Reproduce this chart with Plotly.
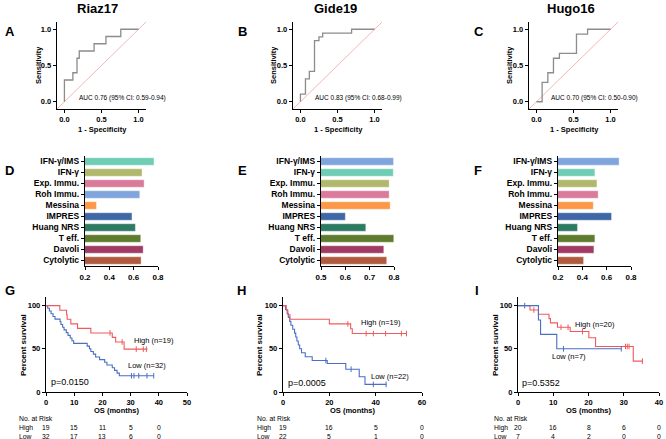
import plotly.graph_objects as go

W, H = 666, 439
FONT = "Liberation Sans"

# ---------------- ROC data ----------------
roc_titles = ["Riaz17", "Gide19", "Hugo16"]
riaz_fpr = [0, 0, 0.114, 0.17, 0.2, 0.4, 0.56, 0.76, 1.0]
riaz_tpr = [0, 0.3, 0.4, 0.6, 0.7, 0.8, 0.9, 1.0, 1.0]
gide_fpr = [0, 0, 0.068, 0.12, 0.19, 0.25, 0.3, 0.69, 1.0]
gide_tpr = [0, 0.105, 0.316, 0.42, 0.842, 0.895, 0.947, 1.0, 1.0]
hugo_fpr = [0, 0.077, 0.154, 0.23, 0.31, 0.54, 0.69, 1.0]
hugo_tpr = [0, 0.267, 0.4, 0.6, 0.667, 0.933, 1.0, 1.0]
auc_texts = ["AUC 0.76 (95% CI: 0.59-0.94)",
             "AUC 0.83 (95% CI: 0.68-0.99)",
             "AUC 0.70 (95% CI: 0.50-0.90)"]
roc_ticks = [0, 0.5, 1.0]

# ---------------- Bar data ----------------
signatures = ["IFN-γ/IMS", "IFN-γ", "Exp. Immu.", "Roh Immu.", "Messina",
              "IMPRES", "Huang NRS", "T eff.", "Davoli", "Cytolytic"]
riaz_auc = [0.767, 0.669, 0.686, 0.650, 0.294, 0.586, 0.614, 0.658, 0.678, 0.661]
gide_auc = [0.798, 0.797, 0.780, 0.780, 0.784, 0.600, 0.684, 0.799, 0.758, 0.770]
hugo_auc = [0.702, 0.503, 0.520, 0.530, 0.490, 0.640, 0.360, 0.503, 0.495, 0.410]
colors_d = ["#6fcdb6", "#b0b86c", "#da7b9b", "#7fa5dc", "#fd9848",
            "#3f67a5", "#2d7b63", "#5f7b2d", "#a03c64", "#b05a3f"]
colors_ef = ["#7fa5dc", "#6fcdb6", "#b0b86c", "#da7b9b", "#fd9848",
             "#3f67a5", "#2d7b63", "#5f7b2d", "#a03c64", "#b05a3f"]
bar_ranges = [[0.2, 0.8], [0.5, 0.8], [0.2, 0.8]]
bar_ticks = [[0.2, 0.4, 0.6, 0.8], [0.5, 0.6, 0.7, 0.8], [0.2, 0.4, 0.6, 0.8]]

# ---------------- KM data ----------------
# G: Riaz17
g_high_t = [0, 4.9, 7.3, 7.5, 8.8, 11.2, 15.9, 23.5, 24.7, 27.7, 36.0]
g_high_s = [100, 94.7, 89.5, 84.2, 78.9, 73.7, 68.4, 63.2, 57.9, 49.6, 49.6]
g_high_ct = [22.7, 27.0, 32.0, 34.5, 35.6]
g_high_cs = [68.4, 57.9, 49.6, 49.6, 49.6]
g_low_t = [0, 0.6, 1.2, 1.8, 2.5, 3.2, 5.0, 5.3, 5.9, 6.4, 7.2, 7.8, 8.6, 9.2, 9.8,
           14.6, 15.4, 15.9, 16.8, 17.6, 19.0, 20.8, 21.6, 23.5, 24.3, 25.2, 26.0, 38.2]
g_low_s = [100, 96.9, 93.8, 90.6, 87.5, 84.4, 81.3, 78.1, 75.0, 71.9, 68.8, 65.6, 62.5,
           59.4, 56.3, 53.1, 50.0, 46.9, 43.8, 40.6, 37.5, 34.4, 31.3, 28.1, 25.0,
           21.9, 18.8, 18.8]
g_low_ct = [30.3, 31.2, 32.9, 35.8, 38.2]
g_low_cs = [18.8, 18.8, 18.8, 18.8, 18.8]
# H: Gide19
h_high_t = [0, 1.4, 2.1, 3.0, 20.0, 29.2, 29.9, 53.5]
h_high_s = [100, 94.7, 89.5, 84.2, 78.9, 73.3, 67.7, 67.7]
h_high_ct = [28.0, 35.9, 39.0, 44.3, 51.1, 53.3]
h_high_cs = [78.9, 67.7, 67.7, 67.7, 67.7, 67.7]
h_low_t = [0, 1.1, 1.8, 2.3, 2.9, 3.4, 4.2, 5.0, 5.5, 6.0, 6.6, 7.2, 8.0, 9.6, 12.6,
           19.1, 27.1, 32.9, 35.4, 44.7]
h_low_s = [100, 95.5, 90.9, 86.4, 81.8, 77.3, 72.7, 68.2, 63.6, 59.1, 54.5, 50.0,
           45.5, 40.9, 36.4, 33.0, 26.4, 17.6, 8.8, 8.8]
h_low_ct = [18.5, 29.4, 39.0, 44.5]
h_low_cs = [36.4, 26.4, 8.8, 8.8]
# I: Hugo16
i_high_t = [0, 3.4, 5.8, 8.8, 9.2, 11.2, 14.8, 20.1, 22.0, 32.7, 35.3]
i_high_s = [100, 95, 90, 85, 80, 75, 70, 62.8, 52.7, 35.7, 35.7]
i_high_ct = [4.5, 12.2, 14.2, 18.3, 30.5, 31.0, 31.5, 35.3]
i_high_cs = [95, 75, 75, 70, 52.7, 52.7, 52.7, 35.7]
i_low_t = [0, 5.8, 6.4, 11.0, 29.3]
i_low_s = [100, 83.3, 66.7, 50.0, 50.0]
i_low_ct = [1.9, 12.9, 29.3]
i_low_cs = [100, 50, 50]

km_labels = [("High (n=19)", "Low (n=32)", "p=0.0150"),
             ("High (n=19)", "Low (n=22)", "p=0.0005"),
             ("High (n=20)", "Low (n=7)", "p=0.5352")]
g_risk_t = [0, 10, 20, 30, 40]
g_risk_high = [19, 15, 11, 5, 0]
g_risk_low = [32, 17, 13, 6, 0]
h_risk_t = [0, 20, 40, 60]
h_risk_high = [19, 16, 5, 0]
h_risk_low = [22, 5, 1, 0]
i_risk_t = [0, 10, 20, 30, 40]
i_risk_high = [20, 16, 8, 6, 0]
i_risk_low = [7, 4, 2, 0, 0]

RED = "#f15a5c"
BLUE = "#4a6fc4"


def xd(a, b):
    return [a / W, b / W]


def yd(top, bottom):
    return [1 - bottom / H, 1 - top / H]


def axis_style(size=7.5):
    return dict(showline=True, linecolor="black", linewidth=1.2, ticks="outside",
                ticklen=3, tickwidth=1, tickcolor="black", showgrid=False,
                zeroline=False, automargin=False,
                tickfont=dict(family=FONT, size=size, color="black", weight="bold"))


annotations = []


def ann(text, x, y, size, bold=False, xanchor="left", yanchor="middle", angle=0,
        xref="paper"):
    annotations.append(dict(
        xref=xref, yref="paper", x=(x / W if xref == "paper" else x), y=1 - y / H,
        text=text, showarrow=False, xanchor=xanchor, yanchor=yanchor, textangle=angle,
        borderpad=0,
        font=dict(family=FONT, size=size, color="black",
                  weight="bold" if bold else "normal")))


fig = go.Figure()
layout = {}

# ---------------- ROC panels ----------------
roc_x = [(57, 146), (293, 382), (529, 618)]
roc_data = [(riaz_fpr, riaz_tpr), (gide_fpr, gide_tpr), (hugo_fpr, hugo_tpr)]
title_x = [98, 335, 571]
auc_x = [78, 314, 550]
sens_x = [39, 274, 510]
letters_x = [4, 237, 473]
for k in range(3):
    n = k + 1
    xa, ya = f"x{n}", f"y{n}"
    fig.add_trace(go.Scatter(x=[-0.1, 1.1], y=[-0.1, 1.1], mode="lines",
                             line=dict(color="#f2a3a3", width=0.8),
                             xaxis=xa, yaxis=ya, showlegend=False))
    fig.add_trace(go.Scatter(x=roc_data[k][0], y=roc_data[k][1], mode="lines",
                             line=dict(color="#8c8c8c", width=1.3, shape="hv"),
                             xaxis=xa, yaxis=ya, showlegend=False))
    xs = axis_style(7.5)
    xs.update(domain=xd(*roc_x[k]), range=[-0.1, 1.1], tickvals=roc_ticks,
              tickformat=".1f", anchor=ya)
    ys = axis_style(7.5)
    ys.update(domain=yd(22, 109), range=[-0.1, 1.1], tickvals=roc_ticks,
              tickformat=".1f", anchor=xa)
    layout["xaxis" if n == 1 else f"xaxis{n}"] = xs
    layout["yaxis" if n == 1 else f"yaxis{n}"] = ys
    ann(roc_titles[k], title_x[k], 9, 13, bold=True, xanchor="center")
    ann("ABC"[k], letters_x[k], 31, 13, bold=True)
    ann(auc_texts[k], auc_x[k], 98, 6.5)
    ann("1 - Specificity", (roc_x[k][0] + roc_x[k][1]) / 2 + 1, 129, 7.5, bold=True,
        xanchor="center")
    ann("Sensitivity", sens_x[k], 65, 7.5, bold=True, xanchor="center", angle=-90)

# ---------------- Bar panels ----------------
bar_x = [(85, 158), (321, 394), (558, 631)]
bar_vals = [riaz_auc, gide_auc, hugo_auc]
bar_cols = [colors_d, colors_ef, colors_ef]
for k in range(3):
    n = k + 4
    xa, ya = f"x{n}", f"y{n}"
    fig.add_trace(go.Bar(x=bar_vals[k], y=signatures, orientation="h",
                         marker=dict(color=bar_cols[k],
                                     line=dict(color="rgba(255,255,255,0.45)", width=0.8)),
                         xaxis=xa, yaxis=ya, showlegend=False))
    xs = axis_style(8)
    xs.update(domain=xd(*bar_x[k]), range=bar_ranges[k], tickvals=bar_ticks[k],
              tickformat=".1f", anchor=ya)
    ys = axis_style(8.5)
    ys.update(domain=yd(156, 266), type="category", autorange="reversed",
              anchor=xa, categoryorder="array", categoryarray=signatures)
    layout[f"xaxis{n}"] = xs
    layout[f"yaxis{n}"] = ys
    ann("DEF"[k], letters_x[k], 170, 13, bold=True)

# ---------------- KM panels ----------------
km_x = [(46, 187), (283, 422), (518, 659)]
km_range = [[0, 50], [0, 60], [0, 40]]
km_ticks = [[0, 10, 20, 30, 40, 50], [0, 20, 40, 60], [0, 10, 20, 30, 40]]
km_curves = [
    ((g_high_t, g_high_s, g_high_ct, g_high_cs), (g_low_t, g_low_s, g_low_ct, g_low_cs)),
    ((h_high_t, h_high_s, h_high_ct, h_high_cs), (h_low_t, h_low_s, h_low_ct, h_low_cs)),
    ((i_high_t, i_high_s, i_high_ct, i_high_cs), (i_low_t, i_low_s, i_low_ct, i_low_cs)),
]
risk = [(g_risk_t, g_risk_high, g_risk_low), (h_risk_t, h_risk_high, h_risk_low),
        (i_risk_t, i_risk_high, i_risk_low)]
ps_x = [23, 259, 495]
risk_label_x = [18, 256, 493]
high_pos = [(133, 340), (360, 322), (574, 324)]
low_pos = [(127, 365), (370, 376), (551, 356)]
p_pos = [(50, 382), (287, 383), (521, 383)]
km_letter_x = [4, 236, 474]
for k in range(3):
    n = k + 7
    xa, ya = f"x{n}", f"y{n}"
    order = [(km_curves[k][1], BLUE), (km_curves[k][0], RED)] if k < 2 else \
        [(km_curves[k][0], RED), (km_curves[k][1], BLUE)]
    for (t, s, ct, cs), col in order:
        fig.add_trace(go.Scatter(x=t, y=s, mode="lines",
                                 line=dict(color=col, width=1.1, shape="hv"),
                                 xaxis=xa, yaxis=ya, showlegend=False, cliponaxis=False))
        fig.add_trace(go.Scatter(x=ct, y=cs, mode="markers",
                                 marker=dict(symbol="line-ns-open", size=4, color=col,
                                             line=dict(color=col, width=1)),
                                 xaxis=xa, yaxis=ya, showlegend=False, cliponaxis=False))
    xs = axis_style(7.5)
    xs.update(domain=xd(*km_x[k]), range=km_range[k], tickvals=km_ticks[k], anchor=ya)
    ys = axis_style(7.5)
    ys.update(domain=yd(297, 392), range=[0, 110], tickvals=[0, 50, 100], anchor=xa)
    layout[f"xaxis{n}"] = xs
    layout[f"yaxis{n}"] = ys
    ann("GHI"[k], km_letter_x[k], 290, 13, bold=True)
    ann("Percent survival", ps_x[k], 345, 8, bold=True, xanchor="center", angle=-90)
    ann("OS (months)", (km_x[k][0] + km_x[k][1]) / 2, 410, 7.5, bold=True,
        xanchor="center")
    ann(km_labels[k][0], *high_pos[k], 7.5)
    ann(km_labels[k][1], *low_pos[k], 7.5)
    ann(km_labels[k][2], *p_pos[k], 9)
    ann("No. at Risk", risk_label_x[k], 418, 6.8)
    ann("High", risk_label_x[k], 427.5, 6.8)
    ann("Low", risk_label_x[k], 436, 6.8)
    rt, rh, rl = risk[k]
    for t, v in zip(rt, rh):
        ann(str(v), t, 427.5, 6.8, xanchor="center", xref=xa)
    for t, v in zip(rt, rl):
        ann(str(v), t, 436, 6.8, xanchor="center", xref=xa)

fig.update_layout(width=W, height=H,
                  margin=dict(l=0, r=0, t=0, b=0, pad=0, autoexpand=False),
                  paper_bgcolor="white", plot_bgcolor="white", bargap=0.32,
                  hovermode=False, annotations=annotations, **layout)
fig.write_html("out.html", config={"displayModeBar": False, "staticPlot": True},
               post_script="document.body.style.margin='0';"
                           "document.body.style.overflow='hidden';")
